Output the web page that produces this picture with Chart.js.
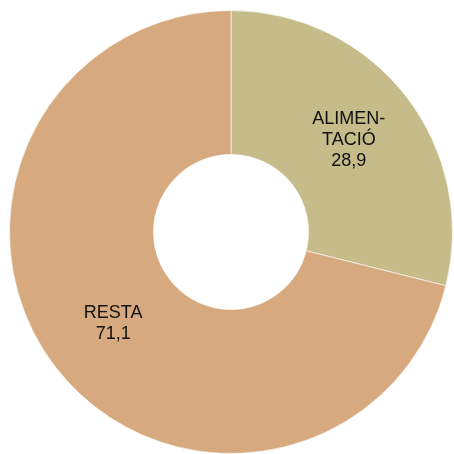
<!DOCTYPE html>
<html>
<head>
<meta charset="utf-8">
<script src="https://cdn.jsdelivr.net/npm/chart.js@4"></script>
<style>
  html, body { margin: 0; padding: 0; background: #fff; }
  #wrap { width: 454px; height: 454px; }
</style>
</head>
<body>
<div id="wrap"><canvas id="donut" width="454" height="454"></canvas></div>
<script>
// categories (split into lines as printed on the slices) and their shares, %
const categories = [['ALIMEN-', 'TACIÓ'], ['RESTA']];
const shares = [28.9, 71.1];
const colours = ['#C5BC89', '#D6A97F'];

// writes the category + value in the middle of each ring segment
const sliceLabels = {
  id: 'sliceLabels',
  afterDatasetsDraw(chart) {
    const { ctx } = chart;
    const meta = chart.getDatasetMeta(0);
    const lineH = 21;
    ctx.save();
    ctx.font = '18px "Liberation Sans", Arial, sans-serif';
    ctx.fillStyle = '#111';
    ctx.textAlign = 'center';
    ctx.textBaseline = 'middle';
    meta.data.forEach((arc, i) => {
      const p = arc.getCenterPoint();
      const lines = categories[i].concat([shares[i].toFixed(1).replace('.', ',')]);
      const top = p.y - (lines.length - 1) * lineH / 2;
      lines.forEach((t, k) => ctx.fillText(t, p.x, top + k * lineH));
    });
    ctx.restore();
  }
};

new Chart(document.getElementById('donut'), {
  type: 'doughnut',
  data: {
    labels: categories.map(c => c.join('')),
    datasets: [{
      data: shares,
      backgroundColor: colours,
      borderColor: 'rgba(255,255,255,0.6)',
      borderWidth: 1
    }]
  },
  options: {
    responsive: false,
    animation: false,
    cutout: '35%',
    layout: { padding: { left: 9, right: 1, top: 10, bottom: 0 } },
    plugins: {
      legend: { display: false },
      tooltip: { enabled: false }
    }
  },
  plugins: [sliceLabels]
});
</script>
</body>
</html>
